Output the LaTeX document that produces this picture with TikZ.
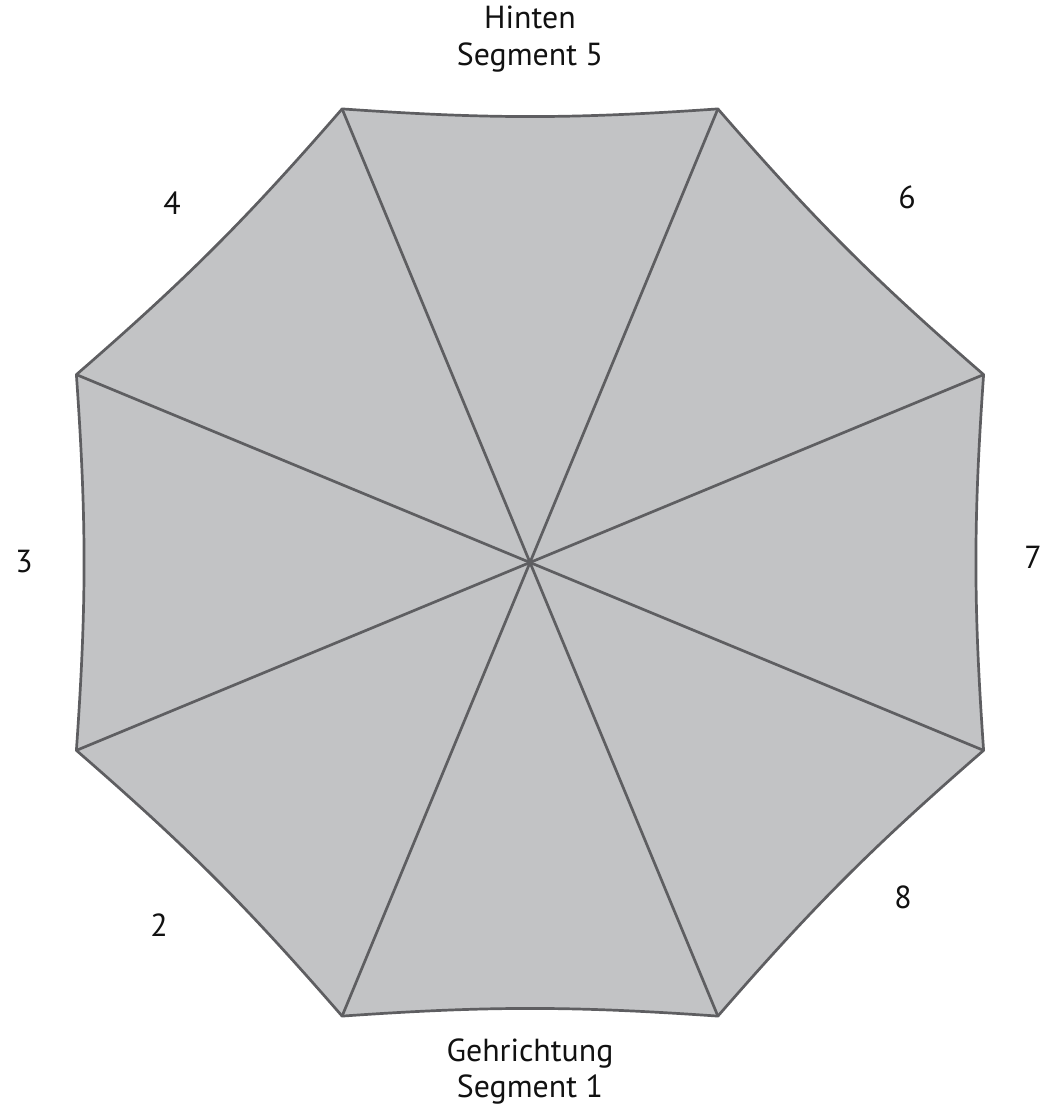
\documentclass[tikz,border=0pt]{standalone}
\usepackage{fontspec}
\setmainfont{PT Sans}
\usepackage{tikz}
\usetikzlibrary{positioning,calc}
\definecolor{ink}     {HTML}{111111}
\definecolor{rim}     {HTML}{5E5E61}
\definecolor{canopy}  {HTML}{C2C3C5}
\tikzset{
  % --- nodes
  lbl/.style   = {align=center, text=ink, inner sep=0pt,
                  font=\fontsize{32}{37}\selectfont},
  % --- edges
  rimline/.style = {draw=rim, line width=2.7bp, line join=round},
  panel/.style   = {fill=canopy},
}
\begin{document}
\begin{tikzpicture}[x=1bp,y=1bp]
  \useasboundingbox (-530,-547.5) rectangle (521,562.5);

  % centre + corners of the canopy, segment i sits between v<i> and v<i+1>
  \coordinate (c) at (0,0);
  \foreach \i in {1,...,8}
    \coordinate (v\i) at ({292.5-45*(\i-1)}:491);

  % canopy cloth, edges sag inwards
  \fill[panel] (v1) \foreach \i/\j in {1/2,2/3,3/4,4/5,5/6,6/7,7/8,8/1}
    {to[bend right=4] (v\j)} -- cycle;

  % ribs
  \foreach \i in {1,...,8}
    \draw[rimline] (c) -- (v\i);

  % outline
  \draw[rimline] (v1) \foreach \i/\j in {1/2,2/3,3/4,4/5,5/6,6/7,7/8,8/1}
    {to[bend right=4] (v\j)} -- cycle;

  % segment labels
  \node[lbl] (seg1) at (0,-509)  {Gehrichtung\\Segment 1};
  \node[lbl] (seg2) at (-371,-362.5) {2};
  \node[lbl] (seg3) at (-506,0.5)  {3};
  \node[lbl] (seg4) at (-358,359.5) {4};
  \node[lbl] (seg5) at (0,523)   {Hinten\\Segment 5};
  \node[lbl] (seg6) at (377,365.5) {6};
  \node[lbl] (seg7) at (503,5.5)   {7};
  \node[lbl] (seg8) at (373,-334.5) {8};
\end{tikzpicture}
\end{document}
